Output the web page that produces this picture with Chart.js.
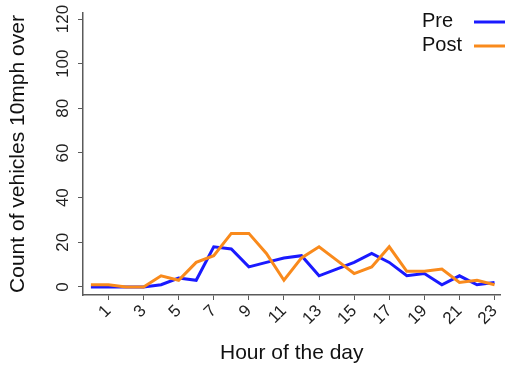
<!DOCTYPE html>
<html>
<head>
<meta charset="utf-8">
<script src="https://cdn.jsdelivr.net/npm/chart.js@4/dist/chart.umd.min.js"></script>
<style>
  html, body { margin: 0; padding: 0; background: #fff; }
  #wrap { width: 510px; height: 372px; }
</style>
</head>
<body>
<div id="wrap"><canvas id="chart" width="510" height="372"></canvas></div>
<script>
// Data
const hours = [0, 1, 2, 3, 4, 5, 6, 7, 8, 9, 10, 11, 12, 13, 14, 15, 16, 17, 18, 19, 20, 21, 22, 23];
const preCounts = [0, 0, 0, 0, 1, 4, 3, 18, 17, 9, 11, 13, 14, 5, 8, 11, 15, 11, 5, 6, 1, 5, 1, 2];
const postCounts = [1, 1, 0, 0, 5, 3, 11, 14, 24, 24, 15, 3, 13, 18, 12, 6, 9, 18, 7, 7, 8, 2, 3, 1];
const xTicks = [1, 3, 5, 7, 9, 11, 13, 15, 17, 19, 21, 23];
const yTicks = [0, 20, 40, 60, 80, 100, 120];

const FONT = 'Liberation Sans, Arial, Helvetica, sans-serif';
const BLUE = '#1a1aff';
const ORANGE = '#f98a1c';
const AXIS = '#5a5a5a';

function toPoints(values) {
    return hours.map((h, i) => ({ x: h, y: values[i] }));
}

// y tick labels are rotated, so draw them by hand from the y scale
const yLabels = {
    id: 'yLabels',
    afterDraw(chart) {
        const ctx = chart.ctx;
        const y = chart.scales.y;
        ctx.save();
        ctx.font = '17px ' + FONT;
        ctx.fillStyle = '#222';
        ctx.textAlign = 'center';
        ctx.textBaseline = 'middle';
        yTicks.forEach(v => {
            ctx.save();
            ctx.translate(63, y.getPixelForValue(v));
            ctx.rotate(-Math.PI / 2);
            ctx.fillText(String(v), 0, 0);
            ctx.restore();
        });
        ctx.restore();
    }
};

// Legend: text on the left, line sample on the right
const sideLegend = {
    id: 'sideLegend',
    afterDraw(chart) {
        const ctx = chart.ctx;
        ctx.save();
        ctx.font = '20px ' + FONT;
        ctx.textBaseline = 'middle';
        ctx.textAlign = 'left';
        chart.data.datasets.forEach((ds, i) => {
            const yy = 21 + i * 24;
            ctx.fillStyle = '#111';
            ctx.fillText(ds.label, 422, yy);
            ctx.strokeStyle = ds.borderColor;
            ctx.lineWidth = 3;
            ctx.beginPath();
            ctx.moveTo(474, yy + 1);
            ctx.lineTo(505, yy + 1);
            ctx.stroke();
        });
        ctx.restore();
    }
};

new Chart(document.getElementById('chart'), {
    type: 'line',
    data: {
        datasets: [
            {
                label: 'Pre',
                data: toPoints(preCounts),
                borderColor: BLUE,
                backgroundColor: BLUE,
                borderWidth: 3,
                pointRadius: 0,
                tension: 0,
                order: 1
            },
            {
                label: 'Post',
                data: toPoints(postCounts),
                borderColor: ORANGE,
                backgroundColor: ORANGE,
                borderWidth: 3,
                pointRadius: 0,
                tension: 0,
                order: 0
            }
        ]
    },
    options: {
        responsive: false,
        animation: false,
        layout: { padding: { top: 13, right: 2, left: 0, bottom: 0 } },
        plugins: {
            legend: { display: false },
            tooltip: { enabled: false }
        },
        scales: {
            x: {
                type: 'linear',
                min: -0.45,
                max: 23.34,
                afterBuildTicks: scale => {
                    scale.ticks = xTicks.map(v => ({ value: v }));
                },
                afterFit: scale => { scale.height = 77; },
                ticks: {
                    minRotation: 45,
                    maxRotation: 45,
                    autoSkip: false,
                    padding: 1,
                    color: '#222',
                    font: { family: FONT, size: 17 }
                },
                grid: { drawOnChartArea: false, drawTicks: true, tickLength: 5, color: AXIS },
                border: { display: true, color: AXIS, width: 1.5 },
                title: {
                    display: true,
                    text: 'Hour of the day',
                    color: '#111',
                    font: { family: FONT, size: 21 },
                    padding: { top: 0, bottom: 6 }
                }
            },
            y: {
                type: 'linear',
                min: -3.6,
                max: 122.7,
                afterBuildTicks: scale => {
                    scale.ticks = yTicks.map(v => ({ value: v }));
                },
                afterFit: scale => { scale.width = 83; },
                ticks: { display: false },
                grid: { drawOnChartArea: false, drawTicks: true, tickLength: 5, color: AXIS },
                border: { display: true, color: AXIS, width: 1.5 },
                title: {
                    display: true,
                    text: 'Count of vehicles 10mph over',
                    color: '#111',
                    font: { family: FONT, size: 21 },
                    padding: { top: 6, bottom: 0 }
                }
            }
        }
    },
    plugins: [yLabels, sideLegend]
});
</script>
</body>
</html>
